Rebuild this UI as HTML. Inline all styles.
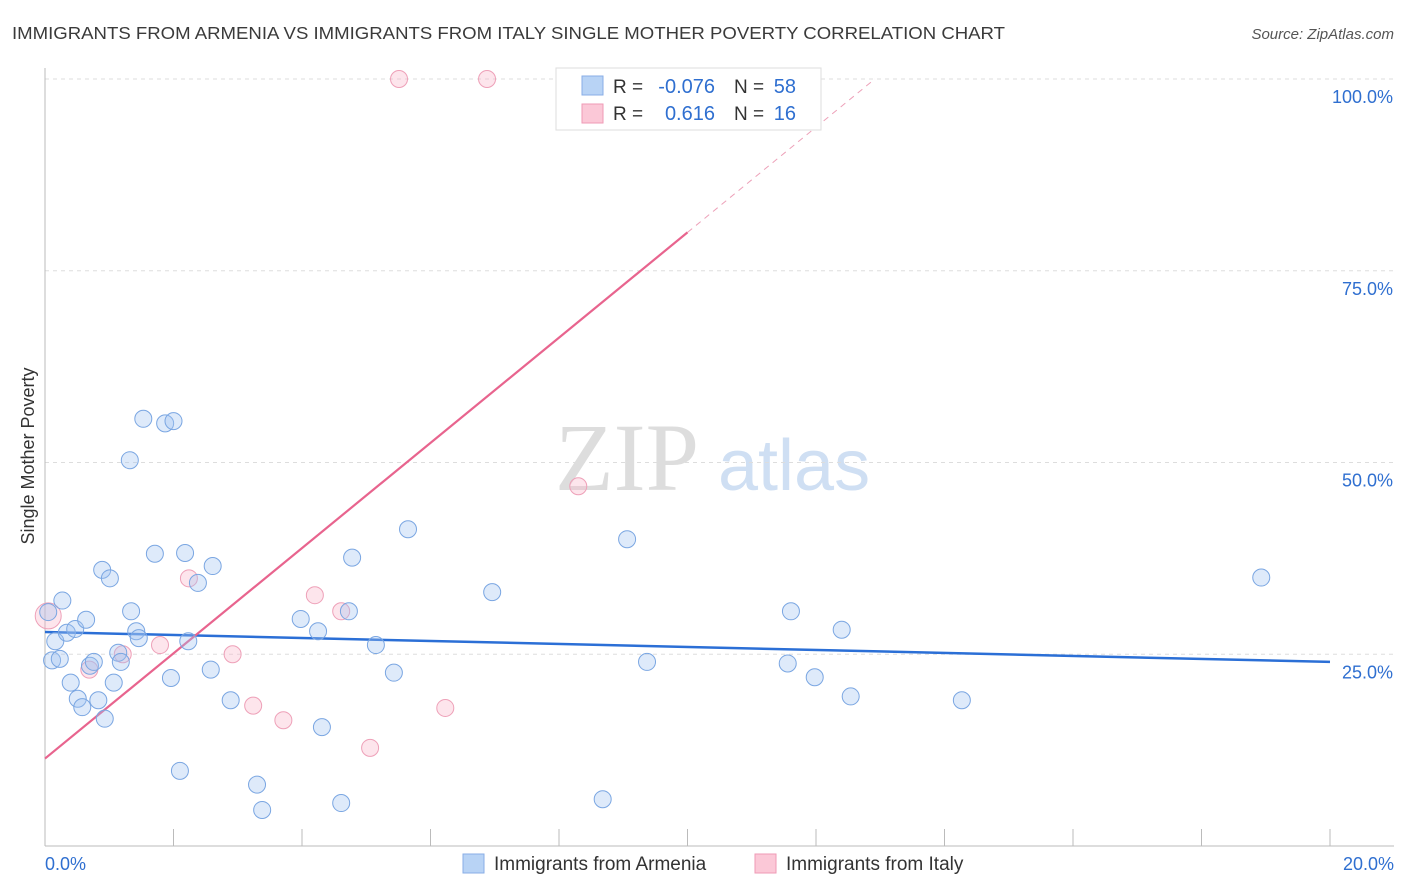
<!DOCTYPE html>
<html><head><meta charset="utf-8"><style>
body{margin:0;background:#fff;font-family:"Liberation Sans",sans-serif;}
svg{display:block}
</style></head><body>
<svg id="chart" width="1406" height="892">
<text x="12" y="39" font-size="17.5" fill="#3a3a3a" textLength="993" lengthAdjust="spacingAndGlyphs">IMMIGRANTS FROM ARMENIA VS IMMIGRANTS FROM ITALY SINGLE MOTHER POVERTY CORRELATION CHART</text>
<text x="1394" y="39" font-size="15" fill="#555" font-style="italic" text-anchor="end">Source: ZipAtlas.com</text>
<text x="0" y="0" transform="translate(34,456) rotate(-90)" font-size="18" fill="#333" text-anchor="middle">Single Mother Poverty</text>
<g>
<text x="555" y="490" font-size="96" font-family="Liberation Serif,serif" fill="#ddd">ZIP</text>
<text x="718" y="490" font-size="72" fill="#cfdff3">atlas</text>
</g>
<g id="grid"></g>
<g id="axes"></g>
<g id="lines"></g>
<g id="pts"></g>
<g>
<rect x="556" y="68" width="265" height="62" fill="#fff" stroke="#ddd"/>
<rect x="582" y="76" width="21" height="19" fill="#b8d3f5" stroke="#88aee6"/>
<rect x="582" y="104" width="21" height="19" fill="#fbc8d7" stroke="#ef9ab5"/>
<text x="613" y="93" font-size="19" fill="#333">R =</text>
<text x="715" y="93" font-size="20" fill="#2f6fd0" text-anchor="end">-0.076</text>
<text x="734" y="93" font-size="19" fill="#333">N =</text>
<text x="796" y="93" font-size="20" fill="#2f6fd0" text-anchor="end">58</text>
<text x="613" y="120" font-size="19" fill="#333">R =</text>
<text x="715" y="120" font-size="20" fill="#2f6fd0" text-anchor="end">0.616</text>
<text x="734" y="120" font-size="19" fill="#333">N =</text>
<text x="796" y="120" font-size="20" fill="#2f6fd0" text-anchor="end">16</text>
</g>
<g>
<rect x="463" y="854" width="21" height="19" fill="#b8d3f5" stroke="#88aee6"/>
<text x="494" y="870" font-size="19" fill="#333">Immigrants from Armenia</text>
<rect x="755" y="854" width="21" height="19" fill="#fbc8d7" stroke="#ef9ab5"/>
<text x="786" y="870" font-size="19" fill="#333">Immigrants from Italy</text>
</g>
</svg>
<script>
const armeniaX=[0.05,0.27,0.16,0.11,0.23,0.34,0.47,0.64,0.40,0.51,0.58,0.70,0.76,0.83,0.93,0.89,1.01,1.07,1.14,1.18,1.34,1.42,1.46,1.53,1.87,2.00,1.32,1.71,2.18,1.96,2.38,2.61,2.23,2.58,2.89,2.10,3.30,3.38,3.98,4.25,4.73,4.78,4.31,4.61,5.15,5.43,5.65,6.96,9.06,9.37,8.68,11.56,11.61,11.98,12.40,12.54,14.27,18.93];
const armeniaY=[30.5,32.0,26.7,24.2,24.4,27.8,28.3,29.5,21.3,19.2,18.1,23.5,24.0,19.0,16.6,36.0,34.9,21.3,25.2,24.0,30.6,28.0,27.1,55.7,55.1,55.4,50.3,38.1,38.2,21.9,34.3,36.5,26.7,23.0,19.0,9.8,8.0,4.7,29.6,28.0,30.6,37.6,15.5,5.6,26.2,22.6,41.3,33.1,40.0,24.0,6.1,23.8,30.6,22.0,28.2,19.5,19.0,35.0];
const italyX=[0.05,0.69,1.21,1.79,2.24,2.92,3.24,3.71,4.20,4.61,5.06,5.51,6.88,6.23,8.30,9.98];
const italyY=[30.0,23.0,25.0,26.2,34.9,25.0,18.3,16.4,32.7,30.6,12.8,100,100,18.0,46.9,100];
const armeniaTrend=[27.9,24.0];
const italyTrend=[11.4,80.0];
const italyTrendEndX=10;
const yTicks=[25,50,75,100];
const yTickLabels=["25.0%","50.0%","75.0%","100.0%"];
const xTicks=[0,2,4,6,8,10,12,14,16,18,20];
const xEndLabels=["0.0%","20.0%"];
const NS="http://www.w3.org/2000/svg";
const X=v=>45+v/20*1285, Y=v=>846-v/100*767;
function mk(tag,attrs,parent){const e=document.createElementNS(NS,tag);for(const k in attrs)e.setAttribute(k,attrs[k]);document.getElementById(parent).appendChild(e);return e;}
yTicks.forEach((t,i)=>{
 const l=mk('line',{x1:45,x2:1394,y1:Y(t),y2:Y(t),stroke:'#ddd','stroke-dasharray':'4,4'},'grid');
 
 
 const tx=mk('text',{x:1393,y:Y(t)+24,'font-size':18,fill:'#2f6fd0','text-anchor':'end'},'grid');
 tx.textContent=yTickLabels[i];
 
 
});
mk('line',{x1:45,x2:45,y1:68,y2:846,stroke:'#bbb'},'axes');
mk('line',{x1:45,x2:1394,y1:846,y2:846,stroke:'#bbb'},'axes');
xTicks.forEach(t=>{const l=mk('line',{x1:X(t),x2:X(t),y1:829,y2:846,stroke:'#bbb'},'axes');
 
 });
const xl0=mk('text',{x:45,y:870,'font-size':18,fill:'#2f6fd0'},'axes');xl0.textContent=xEndLabels[0];


const xl1=mk('text',{x:1394,y:870,'font-size':18,fill:'#2f6fd0','text-anchor':'end'},'axes');xl1.textContent=xEndLabels[1];


function pt(x,y,fill,stroke,name,r){const c=mk('circle',{cx:X(x),cy:Y(y),r:r||8.5,fill:fill,stroke:stroke,'stroke-width':1},'pts');
 
 }
italyX.forEach((x,i)=>pt(x,italyY[i],'rgba(248,180,200,0.35)','#eea0b8','italy-point',i==0?13:8.5));
armeniaX.forEach((x,i)=>pt(x,armeniaY[i],'rgba(160,195,240,0.35)','#7aa6e2','armenia-point'));
const bl=mk('line',{x1:X(0),y1:Y(armeniaTrend[0]),x2:X(20),y2:Y(armeniaTrend[1]),stroke:'#2b6fd6','stroke-width':2.5},'lines');


const slope=(italyTrend[1]-italyTrend[0])/italyTrendEndX;
const pl=mk('line',{x1:X(0),y1:Y(italyTrend[0]),x2:X(italyTrendEndX),y2:Y(italyTrend[1]),stroke:'#e8648e','stroke-width':2.2},'lines');


const xe=(100-italyTrend[0])/slope;
const pd=mk('line',{x1:X(italyTrendEndX),y1:Y(italyTrend[1]),x2:X(xe),y2:Y(100),stroke:'#eda0b8','stroke-width':1,'stroke-dasharray':'6,5'},'lines');


</script>
</body></html>
